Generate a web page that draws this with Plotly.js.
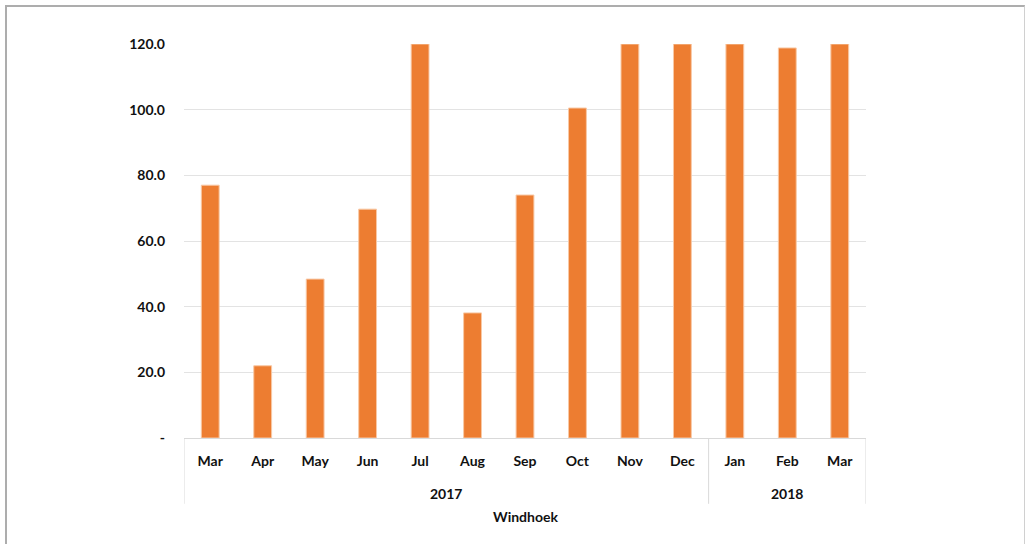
<!DOCTYPE html>
<html>
<head>
<meta charset="utf-8">
<script src="https://cdn.plot.ly/plotly-3.0.1.min.js"></script>
<style>
html,body{margin:0;padding:0;background:#fff;}
#chart{width:1025px;height:544px;position:relative;}
#frame{position:absolute;left:5px;top:5px;width:1017px;height:560px;border-left:2px solid #adadad;border-top:2px solid #adadad;border-right:1px solid #d0d0d0;pointer-events:none;}
</style>
</head>
<body>
<div id="chart"></div>
<div id="frame"></div>
<script>
const months = ["Mar","Apr","May","Jun","Jul","Aug","Sep","Oct","Nov","Dec","Jan","Feb","Mar"];
const values = [77.0, 22.0, 48.4, 69.7, 120.0, 38.1, 74.0, 100.5, 120.0, 120.0, 120.0, 118.8, 120.0];
const years = ["2017","2018"];
const yearCounts = [10, 3];
const yTickVals = [0, 20, 40, 60, 80, 100, 120];
const yTickText = ["-", "20.0", "40.0", "60.0", "80.0", "100.0", "120.0"];
const axisTitle = "Windhoek";

const idx = months.map((m,i)=>i);
const font = {family: "Lato, 'Open Sans', sans-serif", color: "#111111", size: 14};

const shapes = [];
const annotations = [];
let start = 0;
const bounds = [-0.5];
yearCounts.forEach((c,g)=>{
  const end = start + c;
  bounds.push(end - 0.5);
  annotations.push({x:(start + end - 1)/2, y:-0.140, xref:'x', yref:'paper', text:'<b>'+years[g]+'</b>', showarrow:false, font:font, yanchor:'middle'});
  start = end;
});
bounds.forEach(b=>{
  shapes.push({type:'line', xref:'x', yref:'paper', x0:b, x1:b, y0:0, y1:-0.167, line:{color:'#d9d9d9', width:1}});
});
annotations.push({x:0.5, y:-0.199, xref:'paper', yref:'paper', text:'<b>'+axisTitle+'</b>', showarrow:false, font:font, yanchor:'middle'});

const trace = {
  type:'bar', x: idx, y: values,
  marker:{color:'#ed7d31', line:{color:'#f8c9a6', width:1}},
  width:0.34,
  hoverinfo:'skip'
};

const layout = {
  width:1025, height:544,
  margin:{l:184, r:159, t:44, b:106},
  paper_bgcolor:'#fff', plot_bgcolor:'#fff',
  showlegend:false,
  xaxis:{
    tickmode:'array', tickvals: idx, ticktext: months.map(m=>'<b>'+m+'</b>'),
    range:[-0.5, months.length-0.5], showgrid:false, zeroline:false,
    showline:true, linecolor:'#d9d9d9', linewidth:1,
    ticks:'', tickfont:font, ticklabelstandoff:10, fixedrange:true
  },
  yaxis:{
    range:[0,120], tickmode:'array', tickvals:yTickVals, ticktext:yTickText.map(t=>'<b>'+t+'</b>'),
    showgrid:true, gridcolor:'#e3e3e3', gridwidth:1, zeroline:false, showline:false,
    ticks:'', tickfont:font, ticklabelstandoff:18, fixedrange:true
  },
  shapes:shapes,
  annotations:annotations
};

Plotly.newPlot('chart', [trace], layout, {staticPlot:true, displayModeBar:false});
</script>
</body>
</html>
